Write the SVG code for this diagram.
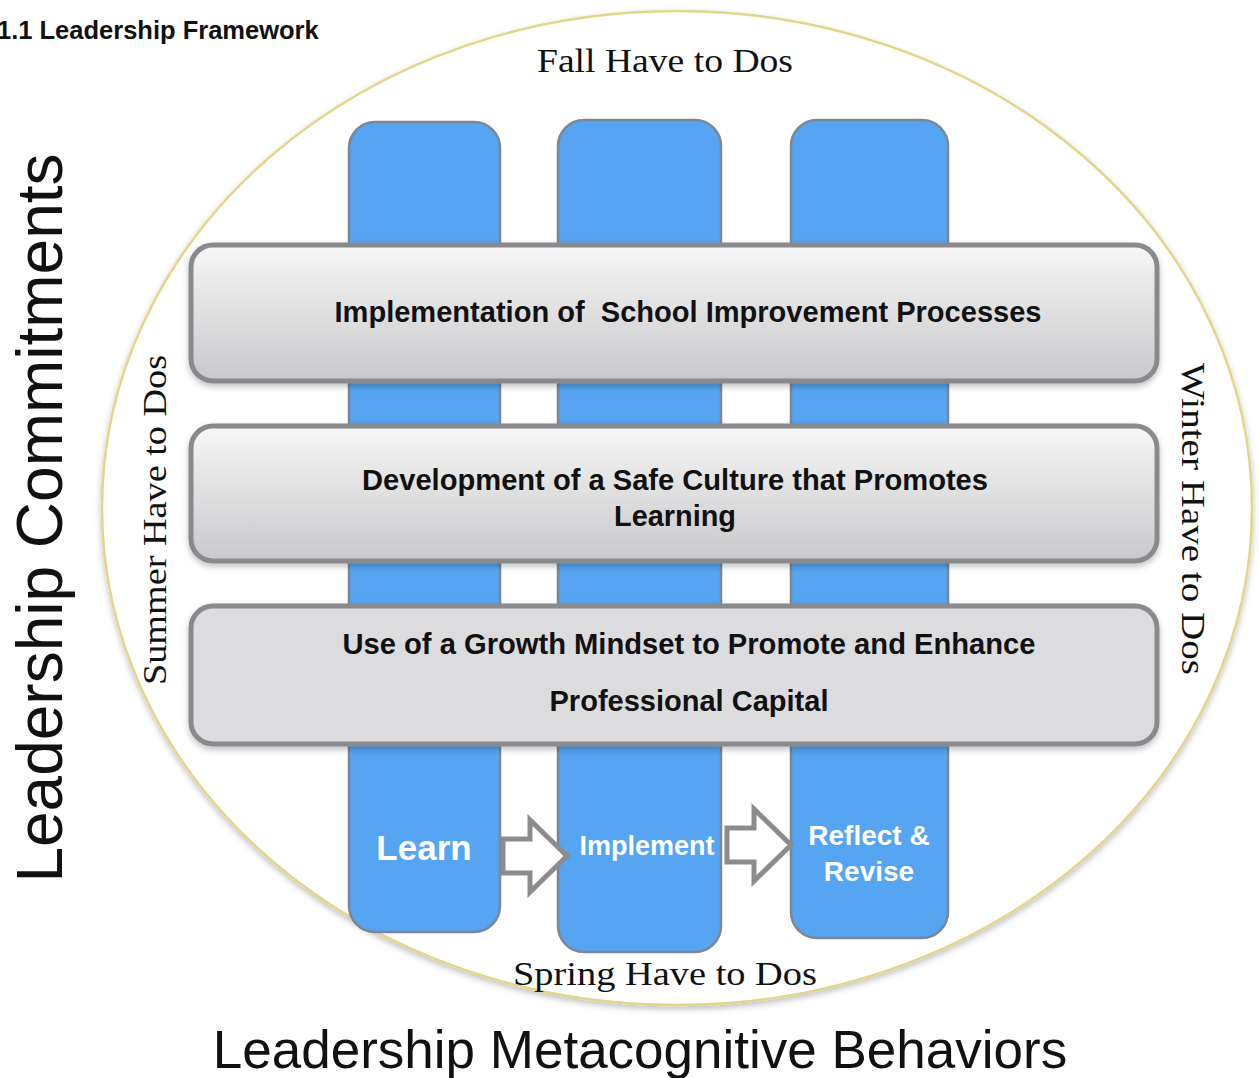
<svg xmlns="http://www.w3.org/2000/svg" width="1259" height="1078" viewBox="0 0 1259 1078">
<defs>
<style>
.col{fill:#55a5f2;stroke:#7b8794;stroke-width:2.5}
.bar{stroke:#898a8e;stroke-width:5}
.lbl{font-family:"Liberation Sans",Arial,sans-serif;font-weight:bold;font-size:29px;fill:#111;text-anchor:middle}
.wl{font-family:"Liberation Sans",Arial,sans-serif;font-weight:bold;fill:#fff;text-anchor:middle}
.ser{font-family:"Liberation Serif","Times New Roman",serif;font-size:34px;fill:#111;text-anchor:middle}
.big{font-family:"Liberation Sans",Arial,sans-serif;fill:#111;text-anchor:middle}
.arr{fill:#fff;stroke:#8c8c8c;stroke-width:5;stroke-linejoin:miter}
</style>
<linearGradient id="g" x1="0" y1="0" x2="0" y2="1">
<stop offset="0" stop-color="#f6f6f6"/>
<stop offset="1" stop-color="#c9c9cc"/>
</linearGradient>
<filter id="sh" x="-5%" y="-10%" width="110%" height="125%">
<feDropShadow dx="0" dy="3" stdDeviation="3" flood-color="#000" flood-opacity="0.25"/>
</filter>
</defs>
<rect width="1259" height="1078" fill="#fff"/>
<text x="-3" y="39" font-family="Liberation Sans,Arial,sans-serif" font-weight="bold" font-size="25.5" fill="#111">1.1 Leadership Framework</text>
<g id="ellipse">
<ellipse cx="677" cy="508" rx="575" ry="497" fill="#fff" stroke="#e3d68a" stroke-width="2.5" filter="url(#sh)"/>
</g>
<g id="col-learn"><rect class="col" x="349" y="122" width="151" height="810" rx="26"/></g>
<g id="col-implement"><rect class="col" x="558" y="120" width="163" height="832" rx="26"/></g>
<g id="col-reflect"><rect class="col" x="791" y="120" width="157" height="818" rx="26"/></g>
<g id="bar1"><rect class="bar" x="191" y="245" width="966" height="136" rx="22" fill="url(#g)" filter="url(#sh)"/>
<text class="lbl" x="688" y="322" textLength="707" lengthAdjust="spacingAndGlyphs">Implementation of&#160; School Improvement Processes</text></g>
<g id="bar2"><rect class="bar" x="191" y="426" width="966" height="135" rx="22" fill="url(#g)" filter="url(#sh)"/>
<text class="lbl" x="675" y="490" textLength="626" lengthAdjust="spacingAndGlyphs">Development of a Safe Culture that Promotes</text>
<text class="lbl" x="675" y="526" textLength="122" lengthAdjust="spacingAndGlyphs">Learning</text></g>
<g id="bar3"><rect class="bar" x="191" y="606" width="966" height="138" rx="22" fill="#dcdcdf" filter="url(#sh)"/>
<text class="lbl" x="689" y="654" textLength="693" lengthAdjust="spacingAndGlyphs">Use of a Growth Mindset to Promote and Enhance</text>
<text class="lbl" x="689" y="711" textLength="279" lengthAdjust="spacingAndGlyphs">Professional Capital</text></g>
<g id="connectors">
<path class="arr" d="M503 839 L530 839 L530 820 L567 856 L530 892 L530 873 L503 873 Z"/>
<path class="arr" d="M727 828 L754 828 L754 809 L791 845 L754 881 L754 862 L727 862 Z"/>
</g>
<text class="wl" x="424" y="860" font-size="35">Learn</text>
<text class="wl" x="647" y="855" font-size="27">Implement</text>
<text class="wl" x="869" y="845" font-size="28">Reflect &amp;</text>
<text class="wl" x="869" y="881" font-size="28">Revise</text>
<text class="ser" x="665" y="72" textLength="256" lengthAdjust="spacingAndGlyphs">Fall Have to Dos</text>
<text class="ser" x="665" y="985" textLength="304" lengthAdjust="spacingAndGlyphs">Spring Have to Dos</text>
<text class="ser" transform="translate(166 520) rotate(-90)" textLength="330" lengthAdjust="spacingAndGlyphs">Summer Have to Dos</text>
<text class="ser" transform="translate(1182 519) rotate(90)" textLength="312" lengthAdjust="spacingAndGlyphs">Winter Have to Dos</text>
<text class="big" transform="translate(62 518) rotate(-90)" font-size="64">Leadership Commitments</text>
<text class="big" x="640" y="1068" font-size="53">Leadership Metacognitive Behaviors</text>
</svg>
